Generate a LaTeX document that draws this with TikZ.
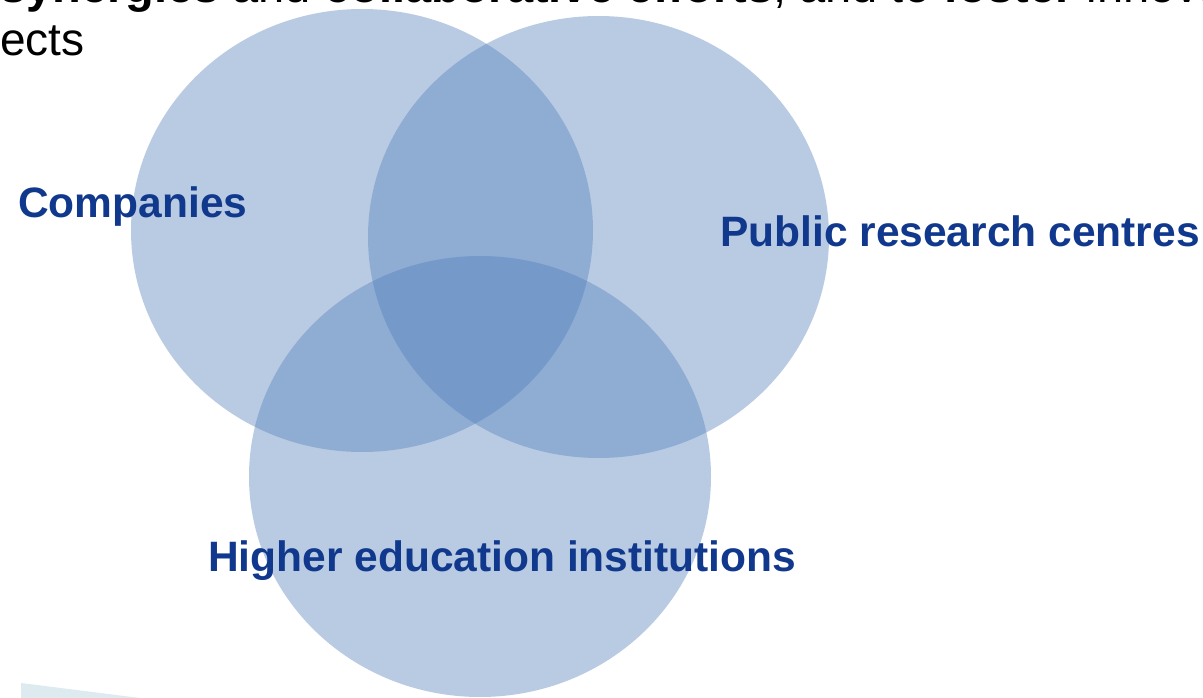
\documentclass[tikz,border=0pt]{standalone}
\usepackage{fontspec}
\setmainfont{Liberation Sans}
\definecolor{vennblue}{RGB}{80,127,187}
\definecolor{labelblue}{RGB}{16,56,140}
\definecolor{paleteal}{RGB}{221,235,240}
\begin{document}
\begin{tikzpicture}[x=1pt,y=-1pt,
  venn/.style={fill=vennblue, fill opacity=0.4},
  lbl/.style={inner sep=0pt, anchor=base west, text=labelblue, font=\fontsize{42.5}{50}\selectfont\bfseries},
  body/.style={inner sep=0pt, anchor=base west, text=black, font=\fontsize{46}{54}\selectfont}]
\clip (0,0) rectangle (1203,698);
\fill[white] (0,0) rectangle (1203,698);
% pale shape at bottom left
\fill[paleteal] (21,683) -- (140,698) -- (21,698) -- cycle;
% three circles
\fill[venn] (362,230.5) ellipse [x radius=231pt, y radius=221.5pt];
\fill[venn] (598.5,237) ellipse [x radius=230.5pt, y radius=221pt];
\fill[venn] (480,476.5) ellipse [x radius=231pt, y radius=220.5pt];
% heading text (cut off at the top)
\node[body, font=\fontsize{47}{54}\selectfont] (line1) at (0,3) {\textbf{synergies} and \textbf{collaborative efforts}, and to \textbf{foster} innovation};
\node[body] (line2) at (0,56) {ects};
% labels
\node[lbl] (comp) at (18,218) {Companies};
\node[lbl] (prc) at (720,247) {Public research centres};
\node[lbl] (hei) at (208,571) {Higher education institutions};
\end{tikzpicture}
\end{document}
